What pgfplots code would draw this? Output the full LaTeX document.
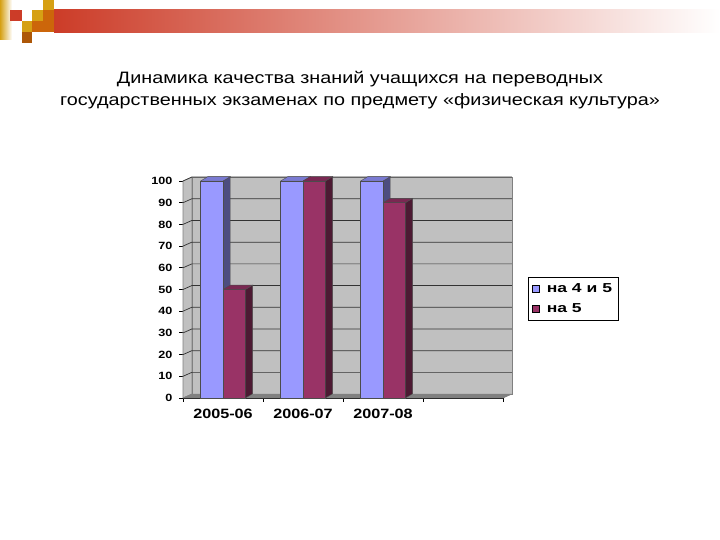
\documentclass[border=0pt]{standalone}
\usepackage{fontspec}
\setmainfont{Liberation Sans}
\newfontfamily\tickfont[FakeStretch=1.2]{Liberation Sans}
\newfontfamily\legfont[FakeStretch=1.35]{Liberation Sans}
\usepackage{pgfplots}
\pgfplotsset{compat=1.18}

\definecolor{wallgray}{RGB}{192,192,192}
\definecolor{floorgray}{RGB}{128,128,128}
\definecolor{bluefront}{RGB}{153,153,255}
\definecolor{blueside}{RGB}{77,77,128}
\definecolor{bluetop}{RGB}{122,122,210}
\definecolor{redfront}{RGB}{153,51,102}
\definecolor{redside}{RGB}{77,26,51}
\definecolor{redtop}{RGB}{122,40,82}
\definecolor{hdrred}{RGB}{204,60,40}
\definecolor{hdrgold}{RGB}{214,160,20}
\definecolor{hdrorange}{RGB}{204,102,10}

\begin{document}
\begin{tikzpicture}[x=1pt,y=1pt]
  % slide frame
  \path[fill=white] (0,0) rectangle (720,540);
  % header decoration
  \shade[left color=hdrred, right color=white] (54,507) rectangle (720,530);
  \shade[left color=hdrgold, right color=white] (0,500) rectangle (12,540);
  \fill[hdrred] (10,519) rectangle (22,530);
  \fill[hdrgold] (43,530) rectangle (54,540);
  \fill[hdrgold] (32,519) rectangle (43,530);
  \fill[hdrorange] (43,508) rectangle (54,530);
  \fill[hdrgold] (22,508) rectangle (32,519);
  \fill[hdrorange] (32,508) rectangle (43,519);
  \fill[hdrorange!85!black] (22,497) rectangle (32,508);
  % title
  \node[font=\tickfont\fontsize{16.5}{22}\selectfont, align=center, anchor=north] at (360,472)
    {Динамика качества знаний учащихся на переводных\\
     государственных экзаменах по предмету «физическая культура»};

  \begin{axis}[
      at={(183pt,142pt)}, anchor=south west,
      width=320pt, height=217pt, scale only axis,
      xmin=0, xmax=4, ymin=0, ymax=100, clip=false,
      axis x line*=bottom, axis y line*=left,
      axis line style={black, line width=0.8pt, -},
      tick style={black, line width=0.8pt},
      tick align=outside, major tick length=4pt,
      /pgf/number format/assume math mode=true,
      xtick={0,1,2,3,4}, xticklabels={},
      extra x ticks={0.5,1.5,2.5},
      extra x tick labels={2005-06,2006-07,2007-08},
      extra x tick style={major tick length=0pt,
        tick label style={font=\tickfont\fontsize{13.5}{13.5}\selectfont\bfseries, yshift=-8pt}},
      ytick={0,10,...,100},
      yticklabel style={font=\tickfont\fontsize{10.5}{10.5}\selectfont\bfseries, xshift=-3pt},
      bar width=0.28, ybar=0pt,
      legend style={at={(1.078,0.558)}, anchor=north west, draw=black,
        line width=0.6pt, font=\legfont\fontsize{13}{13}\selectfont\bfseries,
        inner xsep=4pt, inner ysep=4pt, row sep=6pt,
        /tikz/every odd column/.append style={column sep=5pt}},
      legend cell align=left,
    ]
    % back wall, left wall, floor
    \addplot[sharp plot, fill=wallgray, draw=floorgray, line width=0.6pt, forget plot]
      coordinates {(0.11,1.8) (4.11,1.8) (4.11,101.8) (0.11,101.8) (0.11,1.8)};
    \addplot[sharp plot, fill=wallgray, draw=floorgray, line width=0.6pt, forget plot]
      coordinates {(0,0) (0.11,1.8) (0.11,101.8) (0,100) (0,0)};
    \addplot[sharp plot, fill=floorgray, draw=floorgray, line width=0.6pt, forget plot]
      coordinates {(0,0) (4,0) (4.11,1.8) (0.11,1.8) (0,0)};
    % grid lines
    \foreach \g in {10,20,...,100} {
      \edef\tmp{\noexpand\addplot[sharp plot, black!80, line width=0.7pt, forget plot]
        coordinates {(0,\g) (0.11,\g+1.8) (4.11,\g+1.8)};}
      \tmp
    }
    % blue bars: side, top
    \addplot[sharp plot, fill=blueside, draw=black!70, line width=0.4pt, forget plot]
      coordinates {(0.5,0) (0.59,2) (0.59,102) (0.5,100) (0.5,0)};
    \addplot[sharp plot, fill=blueside, draw=black!70, line width=0.4pt, forget plot]
      coordinates {(1.5,0) (1.59,2) (1.59,102) (1.5,100) (1.5,0)};
    \addplot[sharp plot, fill=blueside, draw=black!70, line width=0.4pt, forget plot]
      coordinates {(2.5,0) (2.59,2) (2.59,102) (2.5,100) (2.5,0)};
    \addplot[sharp plot, fill=bluetop, draw=black!70, line width=0.4pt, forget plot]
      coordinates {(0.22,100) (0.5,100) (0.59,102) (0.31,102) (0.22,100)};
    \addplot[sharp plot, fill=bluetop, draw=black!70, line width=0.4pt, forget plot]
      coordinates {(1.22,100) (1.5,100) (1.59,102) (1.31,102) (1.22,100)};
    \addplot[sharp plot, fill=bluetop, draw=black!70, line width=0.4pt, forget plot]
      coordinates {(2.22,100) (2.5,100) (2.59,102) (2.31,102) (2.22,100)};
    % front faces
    \addplot[ybar, bar shift=-0.14, fill=bluefront, draw=black!70, line width=0.4pt,
      legend image code/.code={\draw[fill=bluefront, draw=black, line width=0.5pt] (0pt,-3.5pt) rectangle (7pt,3.5pt);}]
      coordinates {(0.5,100) (1.5,100) (2.5,100)};
    \addlegendentry{на 4 и 5}
    \addplot[ybar, bar shift=0.14, fill=redfront, draw=black!70, line width=0.4pt,
      legend image code/.code={\draw[fill=redfront, draw=black, line width=0.5pt] (0pt,-3.5pt) rectangle (7pt,3.5pt);}]
      coordinates {(0.5,50) (1.5,100) (2.5,90)};
    \addlegendentry{на 5}
    % red bars: side, top
    \addplot[sharp plot, fill=redside, draw=black!70, line width=0.4pt, forget plot]
      coordinates {(0.78,0) (0.87,2) (0.87,52) (0.78,50) (0.78,0)};
    \addplot[sharp plot, fill=redside, draw=black!70, line width=0.4pt, forget plot]
      coordinates {(1.78,0) (1.87,2) (1.87,102) (1.78,100) (1.78,0)};
    \addplot[sharp plot, fill=redside, draw=black!70, line width=0.4pt, forget plot]
      coordinates {(2.78,0) (2.87,2) (2.87,92) (2.78,90) (2.78,0)};
    \addplot[sharp plot, fill=redtop, draw=black!70, line width=0.4pt, forget plot]
      coordinates {(0.5,50) (0.78,50) (0.87,52) (0.59,52) (0.5,50)};
    \addplot[sharp plot, fill=redtop, draw=black!70, line width=0.4pt, forget plot]
      coordinates {(1.5,100) (1.78,100) (1.87,102) (1.59,102) (1.5,100)};
    \addplot[sharp plot, fill=redtop, draw=black!70, line width=0.4pt, forget plot]
      coordinates {(2.5,90) (2.78,90) (2.87,92) (2.59,92) (2.5,90)};
  \end{axis}
\end{tikzpicture}
\end{document}
